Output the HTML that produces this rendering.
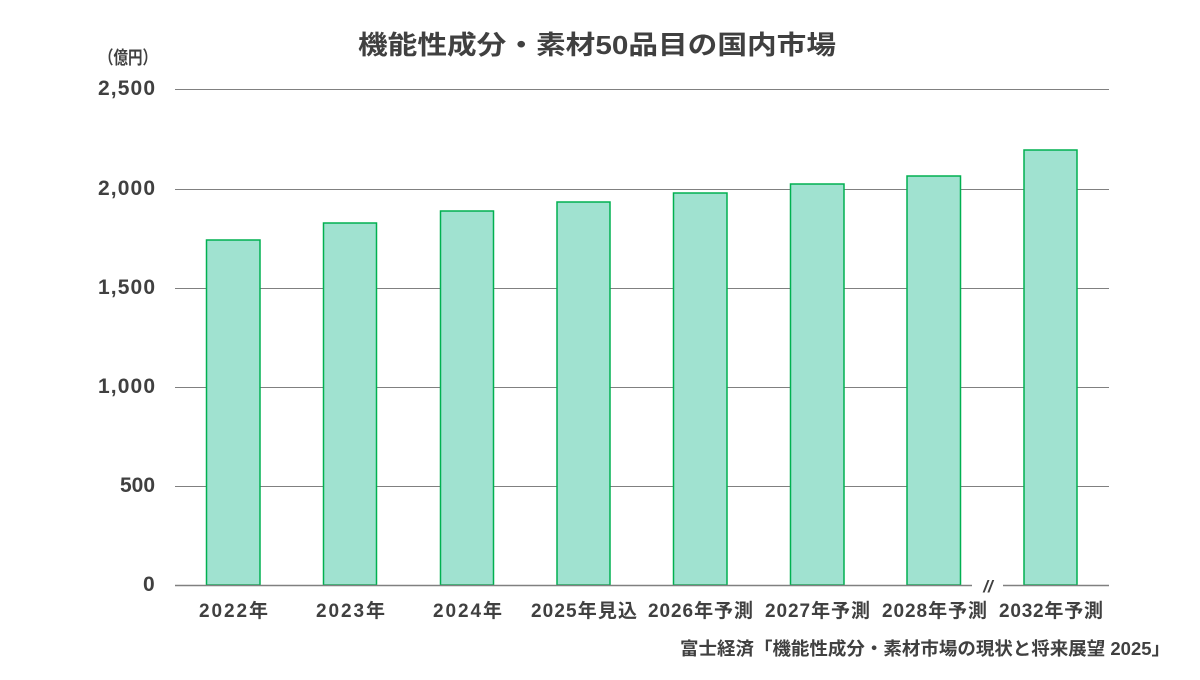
<!DOCTYPE html>
<html><head><meta charset="utf-8"><style>
body{margin:0;background:#fff;}
svg text{font-family:"Liberation Sans","Noto Sans CJK JP",sans-serif;font-weight:bold;fill:#404040;}
</style></head><body>
<svg width="1200" height="675" viewBox="0 0 1200 675" xmlns="http://www.w3.org/2000/svg">
<text x="358" y="54" font-size="26" textLength="478" lengthAdjust="spacingAndGlyphs">機能性成分・素材50品目の国内市場</text>
<text x="99" y="64" font-size="18" textLength="58" lengthAdjust="spacingAndGlyphs">（億円）</text>
<g stroke="#808080" stroke-width="1">
<line x1="175" y1="89.5" x2="1109" y2="89.5"/>
<line x1="175" y1="189.5" x2="1109" y2="189.5"/>
<line x1="175" y1="288.5" x2="1109" y2="288.5"/>
<line x1="175" y1="387.5" x2="1109" y2="387.5"/>
<line x1="175" y1="486.5" x2="1109" y2="486.5"/>
</g>
<g font-size="21" lengthAdjust="spacingAndGlyphs">
<text x="98" y="95" textLength="57">2,500</text>
<text x="98" y="195" textLength="57">2,000</text>
<text x="98" y="294" textLength="57">1,500</text>
<text x="98" y="393" textLength="57">1,000</text>
<text x="120" y="492" textLength="35">500</text>
<text x="143" y="591" textLength="12">0</text>
</g>
<g fill="#a0e2d0" stroke="#00b050" stroke-width="1.5">
<rect x="206.5" y="240" width="53.5" height="345"/>
<rect x="323.5" y="223" width="53" height="362"/>
<rect x="440.5" y="211" width="53" height="374"/>
<rect x="557" y="202" width="53" height="383"/>
<rect x="673.5" y="193" width="53.5" height="392"/>
<rect x="790.5" y="184" width="53.5" height="401"/>
<rect x="907" y="176" width="53.5" height="409"/>
<rect x="1024" y="150" width="53" height="435"/>
</g>
<g stroke="#808080" stroke-width="1.5">
<line x1="175" y1="585.5" x2="972" y2="585.5"/>
<line x1="1003" y1="585.5" x2="1109" y2="585.5"/>
</g>
<text x="988" y="592" font-size="17" text-anchor="middle" font-style="italic" font-weight="normal">//</text>
<g font-size="19" lengthAdjust="spacingAndGlyphs">
<text x="199" y="617" textLength="69">2022年</text>
<text x="316" y="617" textLength="69">2023年</text>
<text x="433" y="617" textLength="69">2024年</text>
<text x="531" y="617" textLength="106">2025年見込</text>
<text x="648" y="617" textLength="105">2026年予測</text>
<text x="765" y="617" textLength="105">2027年予測</text>
<text x="882" y="617" textLength="105">2028年予測</text>
<text x="999" y="617" textLength="104">2032年予測</text>
</g>
<text x="680" y="655" font-size="18" textLength="490" lengthAdjust="spacingAndGlyphs">富士経済「機能性成分・素材市場の現状と将来展望 2025」</text>
</svg>
</body></html>
